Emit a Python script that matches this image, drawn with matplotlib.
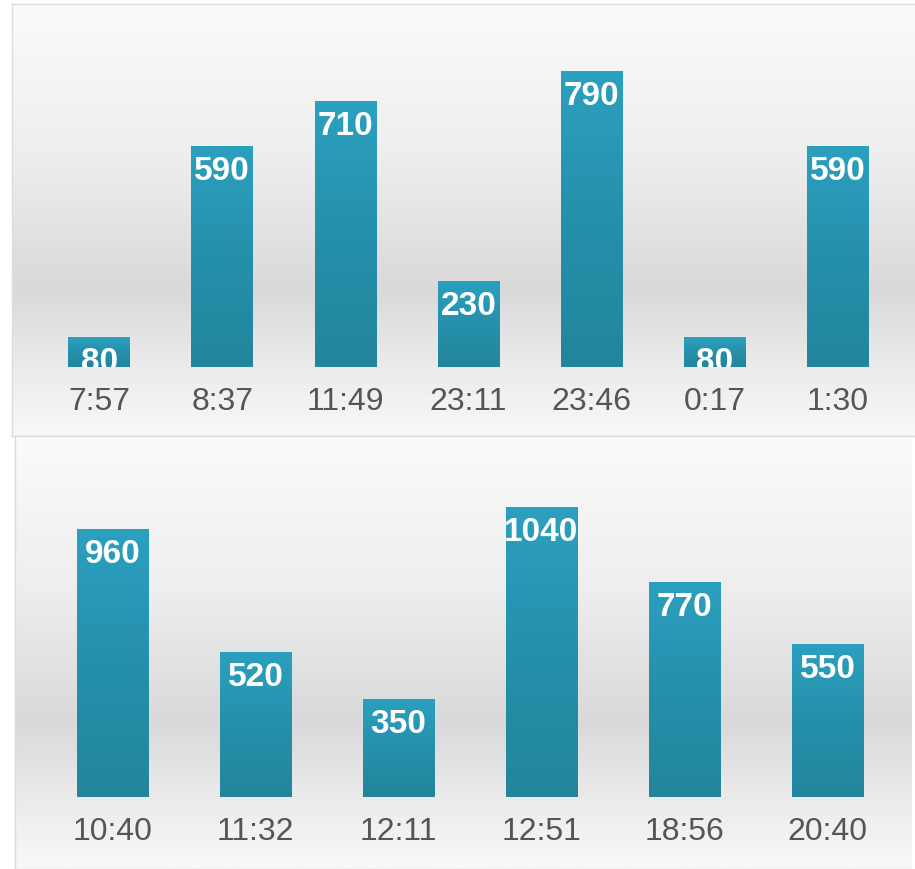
import numpy as np
import matplotlib
matplotlib.use("Agg")
import matplotlib.pyplot as plt
from matplotlib.colors import LinearSegmentedColormap

top_labels = ["7:57", "8:37", "11:49", "23:11", "23:46", "0:17", "1:30"]
top_values = [80, 590, 710, 230, 790, 80, 590]
bottom_labels = ["10:40", "11:32", "12:11", "12:51", "18:56", "20:40"]
bottom_values = [960, 520, 350, 1040, 770, 550]

plt.rcParams['font.family'] = ['Liberation Sans', 'DejaVu Sans']

fig = plt.figure(figsize=(9.15, 8.7), dpi=100)
fig.patch.set_facecolor('white')

bg_cmap = LinearSegmentedColormap.from_list(
    "bg", [(0.0, "#fbfbfb"), (0.35, "#eeeeee"), (0.66, "#d9d9d9"), (0.85, "#ececec"), (1.0, "#f8f8f8")])
bar_cmap = LinearSegmentedColormap.from_list("bar", ["#2ca0bf", "#2590ab", "#23859d"])


def panel_bg(rect):
    bg = fig.add_axes(rect)
    grad = np.linspace(0, 1, 256).reshape(-1, 1)
    bg.imshow(grad, aspect='auto', cmap=bg_cmap, extent=[0, 1, 0, 1], origin='upper')
    bg.set_xticks([]); bg.set_yticks([])
    for s in bg.spines.values():
        s.set_color('#dcdcdc'); s.set_linewidth(1)
    bg.spines['right'].set_visible(False)
    return bg


def draw(rect, labels, values, ymax, bgrect):
    panel_bg(bgrect)
    ax = fig.add_axes(rect)
    ax.patch.set_alpha(0)
    x = np.arange(len(values))
    bars = ax.bar(x, values, width=0.5, color='#2896b2', zorder=2)
    grad = np.linspace(0, 1, 256).reshape(-1, 1)
    for b in bars:
        im = ax.imshow(grad, aspect='auto', cmap=bar_cmap,
                       extent=[b.get_x(), b.get_x() + b.get_width(), 0, b.get_height()],
                       origin='upper', zorder=3)
        im.set_clip_path(b)
    ax.set_xlim(-0.5, len(values) - 0.5)
    ax.set_ylim(0, ymax)
    for xi, v in zip(x, values):
        ax.annotate(str(v), (xi, v), xytext=(0, -6.5), textcoords='offset points',
                    ha='center', va='top', color='white', fontsize=24,
                    fontweight='bold', zorder=4, clip_on=True)
    ax.set_xticks(x)
    ax.set_xticklabels(labels, fontsize=23, color='#555555')
    ax.tick_params(axis='x', length=0, pad=14)
    ax.set_yticks([])
    for s in ax.spines.values():
        s.set_visible(False)
    return ax


# top panel
draw([37.5 / 915, (870 - 368) / 870, 862 / 915, 363 / 870],
     top_labels, top_values, 363 / 0.3745,
     [12 / 915, (870 - 437) / 870, 903 / 915, 432 / 870])
# bottom panel
draw([41 / 915, 72 / 870, 858 / 915, 361 / 870],
     bottom_labels, bottom_values, 361 / 0.27885,
     [15 / 915, 0, 897 / 915, 433 / 870])

fig.savefig("out.png", dpi=100, facecolor='white')
